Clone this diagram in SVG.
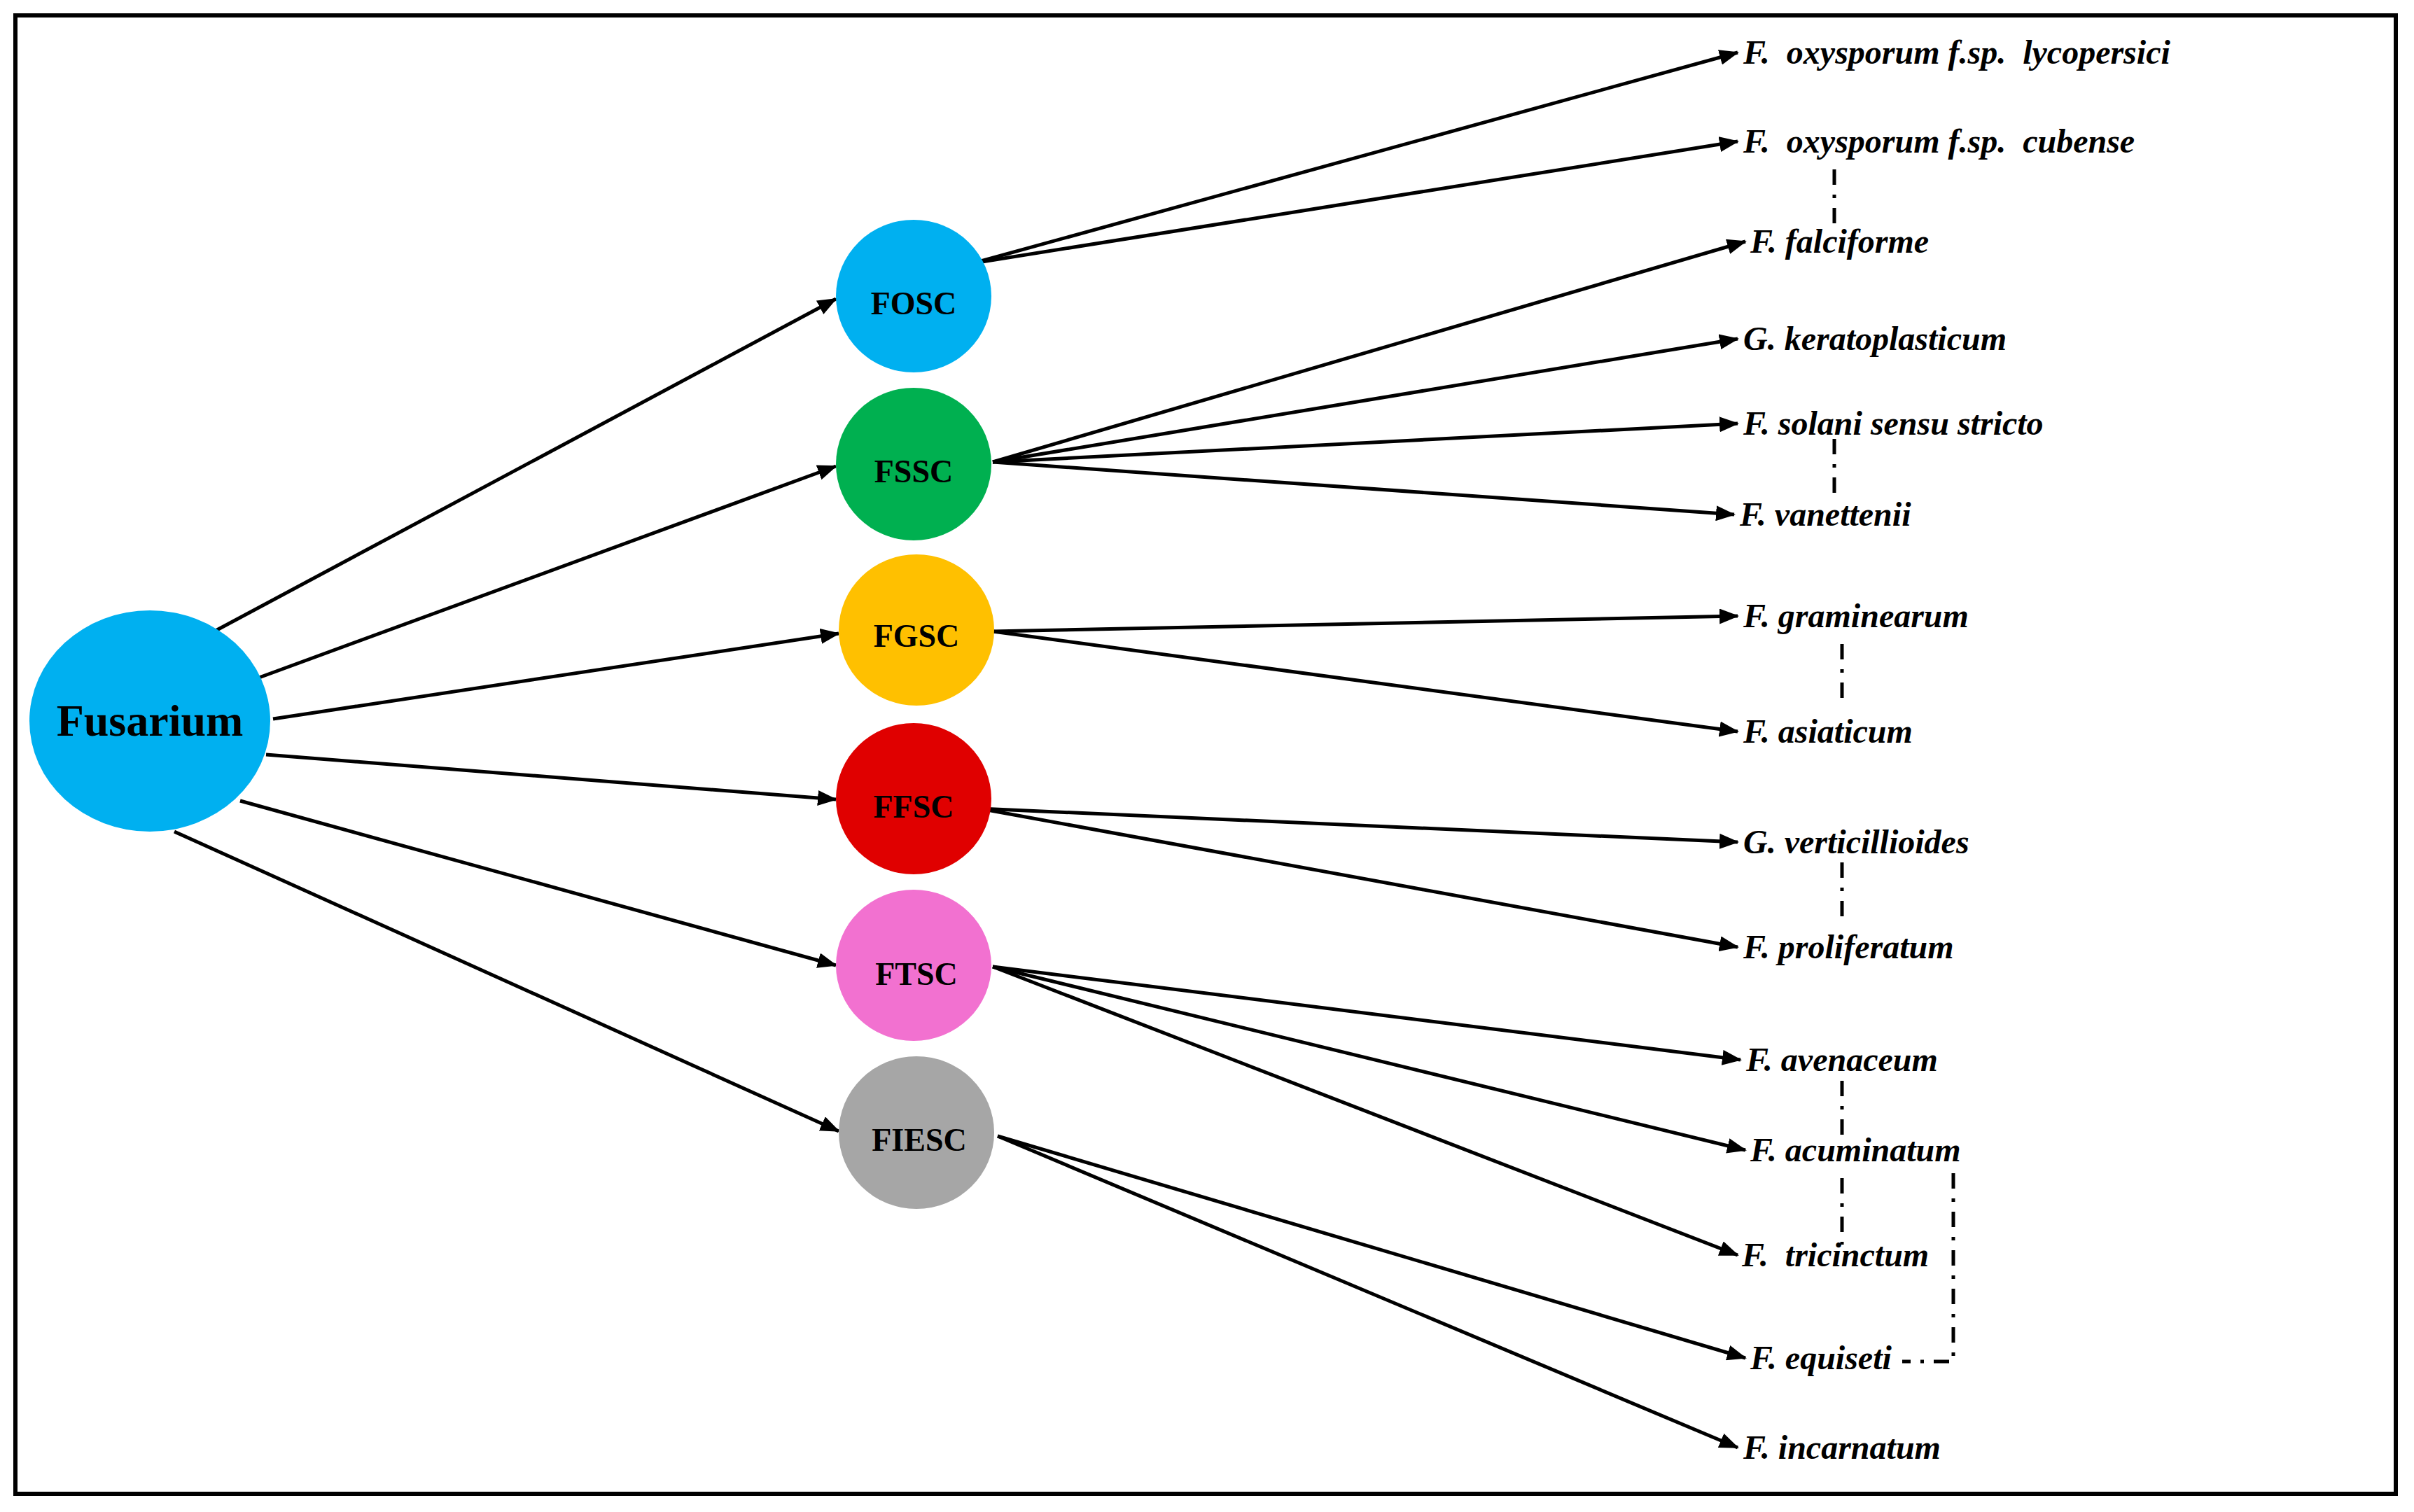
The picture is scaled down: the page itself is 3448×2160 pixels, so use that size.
<svg xmlns="http://www.w3.org/2000/svg" width="3448" height="2160" viewBox="0 0 3448 2160">
<style>
.e{stroke:#000;stroke-width:5;fill:none;marker-end:url(#ah)}
.d{stroke:#000;stroke-width:5;fill:none;stroke-dasharray:22 14 5 14}
.n{font-family:"Liberation Serif",serif;font-weight:bold;font-size:46px;text-anchor:middle}
.t{font-family:"Liberation Serif",serif;font-weight:bold;font-style:italic;font-size:48px;white-space:pre}
</style>
<defs><marker id="ah" markerUnits="userSpaceOnUse" markerWidth="28" markerHeight="22" refX="26" refY="11" orient="auto"><path d="M0,0 L28,11 L0,22 Z" fill="#000"/></marker></defs>
<rect x="22" y="22" width="3400" height="2112" fill="#fff" stroke="#000" stroke-width="6"/>
<g id="connectors">
<path class="e" d="M306,902 L1194,427"/>
<path class="e" d="M370,968 L1194,666"/>
<path class="e" d="M390,1027 L1198,905"/>
<path class="e" d="M380,1078 L1194,1142"/>
<path class="e" d="M343,1144 L1194,1379"/>
<path class="e" d="M249,1188 L1198,1616"/>
<path class="e" d="M1390,376 L2482,75"/>
<path class="e" d="M1390,376 L2482,202"/>
<path class="e" d="M1418,660 L2493,345"/>
<path class="e" d="M1418,660 L2482,484"/>
<path class="e" d="M1418,660 L2482,605"/>
<path class="e" d="M1418,660 L2477,735"/>
<path class="e" d="M1418,902 L2482,880"/>
<path class="e" d="M1418,902 L2482,1045"/>
<path class="e" d="M1399,1155 L2482,1203"/>
<path class="e" d="M1399,1155 L2482,1353"/>
<path class="e" d="M1418,1381 L2486,1514"/>
<path class="e" d="M1418,1381 L2493,1643"/>
<path class="e" d="M1418,1381 L2482,1793"/>
<path class="e" d="M1425,1623 L2493,1940"/>
<path class="e" d="M1425,1623 L2482,2068"/>
<path class="d" d="M2620,242 V330"/>
<path class="d" d="M2620,627 V715"/>
<path class="d" d="M2631,920 V1008"/>
<path class="d" d="M2631,1232 V1320"/>
<path class="d" d="M2631,1544 V1624"/>
<path class="d" d="M2631,1683 V1778"/>
<path class="d" d="M2790,1676 V1945 H2717"/>
</g>
<g id="fusarium"><ellipse cx="214" cy="1030" rx="172" ry="158" fill="#00b0f0"/><text class="n" x="214" y="1051" font-size="64" style="font-size:64px">Fusarium</text></g>
<g id="fosc"><ellipse cx="1305" cy="423" rx="111" ry="109" fill="#00b0f0"/><text class="n" x="1305" y="449">FOSC</text></g>
<g id="fssc"><ellipse cx="1305" cy="663" rx="111" ry="109" fill="#00b050"/><text class="n" x="1305" y="689">FSSC</text></g>
<g id="fgsc"><ellipse cx="1309" cy="900" rx="111" ry="108" fill="#ffc000"/><text class="n" x="1309" y="924">FGSC</text></g>
<g id="ffsc"><ellipse cx="1305" cy="1141" rx="111" ry="108" fill="#e00000"/><text class="n" x="1305" y="1168">FFSC</text></g>
<g id="ftsc"><ellipse cx="1305" cy="1379" rx="111" ry="108" fill="#f271d0"/><text class="n" x="1309" y="1407">FTSC</text></g>
<g id="fiesc"><ellipse cx="1309" cy="1618" rx="111" ry="109" fill="#a6a6a6"/><text class="n" x="1313" y="1644">FIESC</text></g>
<g id="labels">
<text class="t" x="2490" y="91">F.  oxysporum f.sp.  lycopersici</text>
<text class="t" x="2490" y="218">F.  oxysporum f.sp.  cubense</text>
<text class="t" x="2500" y="361">F. falciforme</text>
<text class="t" x="2490" y="500">G. keratoplasticum</text>
<text class="t" x="2490" y="621">F. solani sensu stricto</text>
<text class="t" x="2485" y="751">F. vanettenii</text>
<text class="t" x="2490" y="896">F. graminearum</text>
<text class="t" x="2490" y="1061">F. asiaticum</text>
<text class="t" x="2490" y="1219">G. verticillioides</text>
<text class="t" x="2490" y="1369">F. proliferatum</text>
<text class="t" x="2494" y="1530">F. avenaceum</text>
<text class="t" x="2500" y="1659">F. acuminatum</text>
<text class="t" x="2488" y="1809">F.  tricinctum</text>
<text class="t" x="2500" y="1956">F. equiseti</text>
<text class="t" x="2490" y="2084">F. incarnatum</text>
</g>
</svg>
